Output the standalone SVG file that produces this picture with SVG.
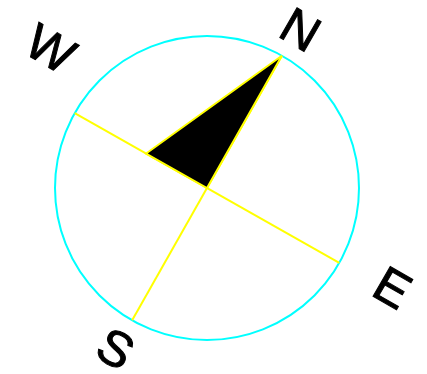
<svg xmlns="http://www.w3.org/2000/svg" width="427" height="374" viewBox="0 0 427 374">
<style>
.lbl{font-family:"Liberation Sans",Arial,sans-serif;font-size:50px;fill:#000;stroke:#000;stroke-width:1;text-anchor:middle}
.ring{fill:none;stroke:#00ffff;stroke-width:2}
.ax{stroke:#ffff00;stroke-width:2;fill:none}
.needle{fill:#000;stroke:#ffff00;stroke-width:2;stroke-linejoin:miter}
</style>
<rect width="427" height="374" fill="#fff"/>
<g id="dial">
<circle class="ring" cx="207" cy="188" r="152"/>
</g>
<g id="connectors" transform="translate(207,188) rotate(29.5)">
<line class="ax" x1="0" y1="-152" x2="0" y2="152"/>
<line class="ax" x1="-152" y1="0" x2="152" y2="0"/>
</g>
<g id="needle" transform="translate(207,188) rotate(29.5)">
<polygon class="needle" points="0,-152 0,0 -70,0"/>
</g>
<g id="label-N"><text class="lbl" transform="translate(301,29) rotate(30)" y="18">N</text></g>
<g id="label-W"><text class="lbl" transform="translate(51,48) rotate(30)" y="18">W</text></g>
<g id="label-E"><text class="lbl" transform="translate(393,287) rotate(30)" y="18">E</text></g>
<g id="label-S"><text class="lbl" transform="translate(116,348) rotate(30)" y="18">S</text></g>
</svg>
